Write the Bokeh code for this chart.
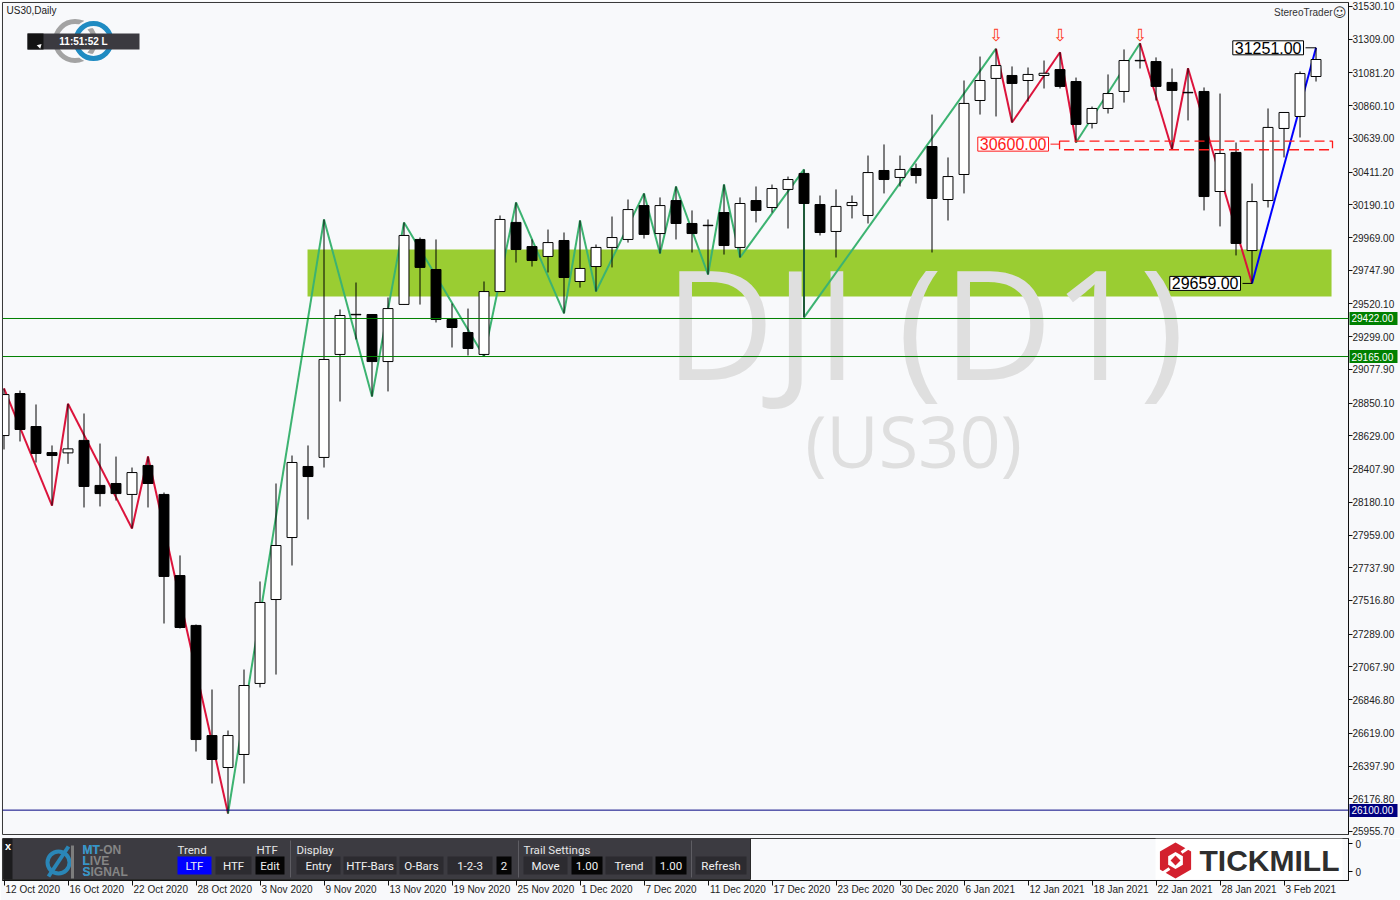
import math
from datetime import date
from bokeh.plotting import figure
from bokeh.models import (Range1d, FixedTicker, NumeralTickFormatter, Span, Label,
                          ColumnDataSource, LinearAxis)
from bokeh.layouts import column
from bokeh.embed import file_html
from bokeh.resources import INLINE
from bokeh.core.properties import value

# ---------------------------------------------------------------- data
trading_days = (
    [date(2020, 10, d) for d in (12, 13, 14, 15, 16, 19, 20, 21, 22, 23, 26, 27, 28, 29, 30)]
    + [date(2020, 11, d) for d in (2, 3, 4, 5, 6, 9, 10, 11, 12, 13, 16, 17, 18, 19, 20, 23, 24, 25, 26, 27, 30)]
    + [date(2020, 12, d) for d in (1, 2, 3, 4, 7, 8, 9, 10, 11, 14, 15, 16, 17, 18, 21, 22, 23, 24, 28, 29, 30, 31)]
    + [date(2021, 1, d) for d in (4, 5, 6, 7, 8, 11, 12, 13, 14, 15, 18, 19, 20, 21, 22, 25, 26, 27, 28, 29)]
    + [date(2021, 2, d) for d in (1, 2, 3, 4, 5)]
)

opens = [28631, 28915, 28692, 28516, 28514, 28598, 28294, 28307, 28233, 28429,
         28233, 27685, 27348, 26604, 26388, 26476, 26956, 27523, 27942, 28422,
         28483, 29179, 29450, 29449, 29131, 29517, 29956, 29753, 29415, 29327,
         29179, 29604, 30071, 29908, 29841, 29949, 29672, 29773, 29902, 29956,
         30185, 29996, 30219, 30064, 30052, 30138, 29902, 30219, 30172, 30294,
         30402, 30192, 30010, 30185, 30118, 30422, 30375, 30435, 30584, 30226,
         30395, 30895, 31044, 31064, 31030, 31064, 31104, 31023, 30740, 30841,
         30956, 31166, 31158, 31017, 30950, 30956, 30280, 30544, 29881, 30219,
         30706, 30787, 31057]
highs = [28949, 28935, 28841, 28564, 28846, 28780, 28577, 28489, 28415, 28489,
         28246, 27821, 27354, 26915, 26638, 27050, 27645, 28307, 28496, 28564,
         30091, 29483, 29665, 29452, 29564, 30071, 29969, 29956, 29523, 29489,
         29672, 30118, 30206, 29956, 30023, 30003, 30084, 29922, 30111, 30226,
         30267, 30240, 30314, 30152, 30091, 30327, 30240, 30314, 30327, 30381,
         30429, 30253, 30294, 30253, 30523, 30598, 30523, 30469, 30800, 30510,
         31030, 31192, 31245, 31125, 31118, 31165, 31221, 31050, 30854, 31071,
         31240, 31282, 31186, 31111, 31113, 30983, 30942, 30611, 30334, 30841,
         30815, 31091, 31251]
lows = [28537, 28591, 28449, 28158, 28440, 28145, 28152, 28192, 28003, 28145,
        27361, 27327, 26496, 26280, 26077, 26280, 26929, 27016, 27753, 28064,
        28415, 28861, 29280, 28895, 28929, 29516, 29516, 29395, 29226, 29172,
        29165, 29604, 29800, 29773, 29733, 29456, 29631, 29604, 29767, 29935,
        29962, 29861, 29956, 29868, 29719, 29854, 29834, 30071, 30138, 30030,
        29429, 29983, 29834, 30098, 30064, 30267, 30314, 30334, 29868, 30084,
        30267, 30800, 30787, 30746, 30888, 30976, 30976, 30611, 30706, 30807,
        30881, 31111, 30895, 30564, 30760, 30152, 30044, 29848, 29659, 30172,
        30510, 30645, 31023]
closes = [28908, 28672, 28510, 28496, 28541, 28287, 28239, 28239, 28381, 28307,
          27679, 27334, 26577, 26442, 26604, 26942, 27503, 27888, 28449, 28354,
          29145, 29442, 29447, 29131, 29489, 29983, 29767, 29415, 29361, 29219,
          29604, 30091, 29888, 29814, 29935, 29699, 29760, 29902, 29969, 30158,
          29990, 30185, 30064, 29996, 30049, 29915, 30199, 30152, 30300, 30361,
          30199, 30003, 30179, 30206, 30408, 30361, 30429, 30388, 30233, 30381,
          30875, 31030, 31131, 31010, 31071, 31079, 30990, 30733, 30841, 30942,
          31165, 31163, 30990, 30963, 30947, 30246, 30537, 29929, 30212, 30713,
          30814, 31077, 31172]

# zigzag swing points (bar index, price) and trend of each leg
zz_bar = [0, 3, 4, 8, 9, 14, 20, 23, 25, 30, 32, 35, 36, 37, 40, 41, 42, 44, 45, 46,
          50, 50, 62, 63, 66, 67, 71, 73, 74, 78, 82]
zz_price = [28949, 28158, 28846, 28003, 28489, 26077, 30091, 28895, 30071, 29165,
            30206, 29456, 30084, 29604, 30267, 29861, 30314, 29719, 30327, 29834,
            30429, 29429, 31245, 30746, 31221, 30611, 31282, 30564, 31113, 29659, 31251]
zz_leg = ["down"] * 5 + ["up"] * 17 + ["down"] * 3 + ["up"] + ["down"] * 3 + ["ltf"]

price_ticks = [31530.10, 31309.00, 31081.20, 30860.10, 30639.00, 30411.20, 30190.10,
               29969.00, 29747.90, 29520.10, 29299.00, 29077.90, 28850.10, 28629.00,
               28407.90, 28180.10, 27959.00, 27737.90, 27516.80, 27289.00, 27067.90,
               26846.80, 26619.00, 26397.90, 26176.80, 25955.70]
date_tick_bars = list(range(0, 81, 4))
date_tick_labels = [f"{trading_days[i].day} {trading_days[i].strftime('%b %Y')}" for i in date_tick_bars]

support_lines = [29422.0, 29165.0]
low_line = 26100.0
zone_low, zone_high = 29571, 29888
zone_bars = (18.97, 82.97)
box_low, box_high = 30562, 30620
box_bars = (65.97, 83.03)
mark_high, mark_mid, mark_low = 31251.0, 30600.0, 29659.0
mark_high_bar, mark_low_bar = 82, 78
arrow_bars = [62, 66, 71]

# ---------------------------------------------------------------- style / layout helpers
W = 1400
MAIN_H = 838
SUB_H = 62
RIGHT = 52
BG = "#f8f9fb"
FONT = "Liberation Sans"
Y_TOP, Y_BOTTOM = 31557.1, 25935.3
X_START, X_END = -0.094, 84.03


def kx(xr):  # reference pixel column -> bar units
    return (xr - 3.5) / 16.0


def py(yr):  # reference pixel row -> price
    return 31530.1 - (yr - 6) * 6.757


def sy(yr):  # reference pixel row -> sub panel units
    return (880 - yr) / 42.0


xr = Range1d(X_START, X_END)

# ---------------------------------------------------------------- main chart
p = figure(width=W, height=MAIN_H, x_range=xr, y_range=Range1d(Y_BOTTOM, Y_TOP),
           output_backend="svg", toolbar_location=None, x_axis_location=None,
           y_axis_location="right", min_border_left=2, min_border_right=RIGHT,
           min_border_top=2, min_border_bottom=4, background_fill_color=BG,
           border_fill_color=BG, outline_line_color="#3a3a3a")
p.grid.visible = False

ya = p.yaxis[0]
ya.ticker = FixedTicker(ticks=price_ticks)
ya.formatter = NumeralTickFormatter(format="0.00")
ya.major_label_text_font_size = "10px"
ya.major_label_text_font = FONT
ya.major_label_text_color = "#222222"
ya.major_tick_out = 4
ya.major_tick_in = 0
ya.minor_tick_line_color = None
ya.axis_line_color = "#111111"
ya.major_tick_line_color = "#111111"
ya.major_label_standoff = 0

# level tags on the price scale: an extra scale whose thick ticks reach back over the labels
for levels, col in [(support_lines, "#008000"), ([low_line], "#000080")]:
    tag = LinearAxis(ticker=FixedTicker(ticks=levels), formatter=NumeralTickFormatter(format="0.00"),
                     axis_line_color=None, major_tick_line_color=col, major_tick_line_width=13,
                     major_tick_in=48, major_tick_out=0, minor_tick_line_color=None,
                     minor_tick_in=0, minor_tick_out=0,
                     major_label_standoff=-46, major_label_text_color="white",
                     major_label_text_font=FONT, major_label_text_font_size="10px")
    p.add_layout(tag, "right")

# support zone
p.quad(left=[zone_bars[0]], right=[zone_bars[1]], bottom=[zone_low], top=[zone_high],
       fill_color="#9acd32", line_color=None)

# watermark
p.text(x=[kx(924)], y=[py(321)], text=["DJI (D1)"], text_font=value("Open Sans"),
       text_font_size="152px", text_align="center", text_baseline="middle",
       text_color="#dfdfdf")
p.text(x=[kx(913)], y=[py(440)], text=["(US30)"], text_font=value("Open Sans"),
       text_font_size="72px", text_align="center", text_baseline="middle",
       text_color="#dfdfdf")

# horizontal lines
for lv in support_lines:
    p.add_layout(Span(location=lv, dimension="width", line_color="#008000", line_width=1))
p.add_layout(Span(location=low_line, dimension="width", line_color="#000080", line_width=1))

# zigzag
leg_colors = {"down": "#dc143c", "up": "#3cb371", "ltf": "#0000ff"}
zz_src = ColumnDataSource(dict(
    x0=zz_bar[:-1], x1=zz_bar[1:], y0=zz_price[:-1], y1=zz_price[1:],
    c=[leg_colors[t] for t in zz_leg]))
p.segment(x0="x0", y0="y0", x1="x1", y1="y1", line_color="c", line_width=2, source=zz_src)

# candles
idx = list(range(len(opens)))
p.segment(x0=idx, y0=lows, x1=idx, y1=highs, line_color="black", line_width=1)
up = [i for i in idx if closes[i] >= opens[i]]
dn = [i for i in idx if closes[i] < opens[i]]
BODY_W = 0.62
p.vbar(x=up, width=BODY_W, top=[closes[i] for i in up], bottom=[opens[i] for i in up],
       fill_color="white", line_color="black", line_width=1)
p.vbar(x=dn, width=BODY_W, top=[opens[i] for i in dn], bottom=[closes[i] for i in dn],
       fill_color="black", line_color="black", line_width=1)

# dashed 30600 box
p.quad(left=[box_bars[0]], right=[box_bars[1]], bottom=[box_low], top=[box_high],
       fill_alpha=0, line_color="#ff1a1a", line_dash="10 5", line_width=1.3)

# swing arrows
p.text(x=arrow_bars, y=[py(35)] * len(arrow_bars), text=["\u21e9"] * len(arrow_bars),
       text_font=value("DejaVu Sans"), text_font_size="17px", text_align="center",
       text_baseline="middle", text_color="#ff3b1f")

# price marker labels + connectors
p.segment(x0=[kx(1305), kx(1242)], y0=[mark_high, mark_low],
          x1=[mark_high_bar, mark_low_bar], y1=[mark_high, mark_low],
          line_color="black", line_width=1)
p.segment(x0=[kx(1050)], y0=[mark_mid], x1=[box_bars[0]], y1=[mark_mid],
          line_color="#ff1a1a", line_width=1)
for xx, yy, txt, col in [(kx(1303), mark_high, "31251.00", "black"),
                         (kx(1240), mark_low, "29659.00", "black"),
                         (kx(1048), mark_mid, "30600.00", "#ff1a1a")]:
    p.add_layout(Label(x=xx, y=yy, text=txt, text_align="right", text_baseline="middle",
                       text_font=FONT, text_font_size="16px", text_color=col,
                       background_fill_color="white", border_line_color=col,
                       padding=dict(left=2, right=2, top=1, bottom=1)))

# header texts
p.add_layout(Label(x=kx(6), y=py(10), text="US30,Daily", text_font=FONT, text_font_size="10px",
                   text_color="#1a1a1a", text_baseline="middle"))
p.add_layout(Label(x=kx(1332), y=py(12), text="StereoTrader", text_font=FONT,
                   text_font_size="10px", text_color="#333333", text_align="right",
                   text_baseline="middle"))
p.add_layout(Label(x=kx(1339), y=py(12), text="\u263a", text_font="DejaVu Sans",
                   text_font_size="13px", text_color="#333333", text_align="center",
                   text_baseline="middle"))

# logo rings + clock bar
p.scatter(x=[kx(74.5)], y=[py(40.5)], marker="circle", size=39, fill_alpha=0,
          line_color="#a3a3a3", line_width=5)
p.scatter(x=[kx(93)], y=[py(40.5)], marker="circle", size=35, fill_alpha=0,
          line_color=BG, line_width=9)
p.scatter(x=[kx(93)], y=[py(40.5)], marker="circle", size=35, fill_alpha=0,
          line_color="#1f8bc2", line_width=5)
p.quad(left=[kx(27)], right=[kx(139)], top=[py(33)], bottom=[py(49)],
       fill_color="#3b3a40", line_color=None)
p.quad(left=[kx(27)], right=[kx(43)], top=[py(33)], bottom=[py(49)],
       fill_color="#141414", line_color=None)
p.scatter(x=[kx(39)], y=[py(45.5)], marker="triangle", size=5, angle=-math.pi / 4,
          fill_color="white", line_color=None)
p.text(x=[kx(83)], y=[py(41)], text=["11:51:52 L"], text_font=value(FONT),
       text_font_style="bold", text_font_size="10px", text_color="white",
       text_align="center", text_baseline="middle")

# ---------------------------------------------------------------- sub window + date axis
s = figure(width=W, height=SUB_H, x_range=xr, y_range=Range1d(0, 1),
           output_backend="svg", toolbar_location=None, y_axis_location="right",
           min_border_left=2, min_border_right=RIGHT, min_border_top=0, min_border_bottom=20,
           background_fill_color=BG, border_fill_color=BG, outline_line_color="#3a3a3a")
s.grid.visible = False

px_per_bar = (W - 2 - RIGHT) / (X_END - X_START)
cw = {" ": .278, "O": .778, "c": .5, "t": .278, "N": .722, "o": .556, "v": .5, "D": .722,
      "e": .556, "J": .5, "a": .556, "n": .556, "F": .611, "b": .556}
centers = []
for b, lab in zip(date_tick_bars, date_tick_labels):
    wpx = sum(cw.get(ch, .556) for ch in lab) * 10
    centers.append(round(b + (1.5 + wpx / 2) / px_per_bar, 4))
xa = s.xaxis[0]
xa.ticker = FixedTicker(ticks=centers, minor_ticks=date_tick_bars)
xa.major_label_overrides = {c: l for c, l in zip(centers, date_tick_labels)}
xa.major_label_text_font = FONT
xa.major_label_text_font_size = "10px"
xa.major_label_text_color = "#222222"
xa.major_tick_line_color = None
xa.major_tick_out = 0
xa.major_tick_in = 0
xa.minor_tick_out = 5
xa.minor_tick_in = 0
xa.minor_tick_line_color = "#111111"
xa.axis_line_color = "#111111"
xa.major_label_standoff = -2

sa = s.yaxis[0]
sa.ticker = FixedTicker(ticks=[0.214, 0.881])
sa.major_label_overrides = {0.214: "0", 0.881: "0"}
sa.major_label_text_font = FONT
sa.major_label_text_font_size = "10px"
sa.major_label_text_color = "#222222"
sa.major_tick_out = 4
sa.major_tick_in = 0
sa.minor_tick_line_color = None
sa.axis_line_color = "#111111"
sa.major_label_standoff = 3

# control panel
s.quad(left=[kx(3)], right=[kx(750)], top=[sy(837)], bottom=[sy(879)],
       fill_color="#3c3b41", line_color="#2a2a2a")
s.quad(left=[kx(3)], right=[kx(12)], top=[sy(837)], bottom=[sy(879)],
       fill_color="#1c1c1e", line_color=None)
s.text(x=[kx(7.5)], y=[sy(845)], text=["x"], text_font=value(FONT), text_font_style="bold",
       text_font_size="11px", text_color="white", text_align="center", text_baseline="middle")

# MT-ON logo
s.scatter(x=[kx(58)], y=[sy(862)], marker="circle", size=22, fill_alpha=0,
          line_color="#2a86b7", line_width=4)
s.segment(x0=[kx(48)], y0=[sy(876)], x1=[kx(68)], y1=[sy(846)], line_color="#2a86b7", line_width=4)
s.segment(x0=[kx(72)], y0=[sy(845)], x1=[kx(72)], y1=[sy(878)], line_color="#7d7d7d", line_width=3)
for word, lead, yy in [("MT-ON", "MT", 849), ("LIVE", "L", 860), ("SIGNAL", "S", 871)]:
    s.text(x=[kx(82)], y=[sy(yy)], text=[word], text_font=value(FONT), text_font_style="bold",
           text_font_size="12px", text_color="#858585", text_align="left", text_baseline="middle")
    s.text(x=[kx(82)], y=[sy(yy)], text=[lead], text_font=value(FONT), text_font_style="bold",
           text_font_size="12px", text_color="#2f95cc", text_align="left", text_baseline="middle")

# headers
s.text(x=[kx(177), kx(256), kx(296), kx(523)], y=[sy(849)] * 4,
       text=["Trend", "HTF", "Display", "Trail Settings"], text_font=value("Roboto"),
       text_font_size="11.5px", text_color="#e6e6e6", text_align="left", text_baseline="middle")
# buttons
btn = [("LTF", 177, 211, "#0000ff"), ("HTF", 215, 251, "#2c2b30"), ("Edit", 255, 284, "#050505"),
       ("Entry", 296, 340, "#2c2b30"), ("HTF-Bars", 343, 396, "#2c2b30"), ("O-Bars", 399, 443, "#2c2b30"),
       ("1-2-3", 447, 492, "#2c2b30"), ("2", 496, 511, "#050505"),
       ("Move", 523, 567, "#2c2b30"), ("1.00", 571, 602, "#050505"), ("Trend", 605, 652, "#2c2b30"),
       ("1.00", 655, 686, "#050505"), ("Refresh", 695, 746, "#2c2b30")]
s.quad(left=[kx(b[1]) for b in btn], right=[kx(b[2]) for b in btn],
       top=[sy(856)] * len(btn), bottom=[sy(874)] * len(btn),
       fill_color=[b[3] for b in btn], line_color=None)
s.text(x=[kx((b[1] + b[2]) / 2) for b in btn], y=[sy(865.5)] * len(btn), text=[b[0] for b in btn],
       text_font=value("Roboto"), text_font_size="11.5px", text_color="#f0f0f0",
       text_align="center", text_baseline="middle")
s.segment(x0=[kx(v) for v in (290, 518, 691)], y0=[sy(840)] * 3,
          x1=[kx(v) for v in (290, 518, 691)], y1=[sy(877)] * 3,
          line_color="#5e5d63", line_width=1)

# Tickmill logo
s.quad(left=[kx(1155)], right=[kx(1342)], top=[sy(838)], bottom=[sy(879)],
       fill_color="white", line_color=None)
s.scatter(x=[kx(1175)], y=[sy(860)], marker="hex", size=36, angle=math.pi / 6,
          fill_color="#d3202e", line_color=None)
s.scatter(x=[kx(1175)], y=[sy(860)], marker="hex", size=17, angle=math.pi / 6,
          fill_color="white", line_color=None)
s.segment(x0=[kx(1181), kx(1169)], y0=[sy(852), sy(868)], x1=[kx(1190), kx(1160)],
          y1=[sy(846), sy(874)], line_color="white", line_width=3)
s.scatter(x=[kx(1175)], y=[sy(860)], marker="square", size=7, angle=math.pi / 4,
          fill_color="#d3202e", line_color=None)
s.text(x=[kx(1199)], y=[sy(860)], text=["TICKMILL"], text_font=value(FONT), text_font_style="bold",
       text_font_size="30px", text_color="#2e2e2e", text_align="left", text_baseline="middle")

layout = column(p, s)
open("out.html", "w").write(file_html(layout, INLINE))
